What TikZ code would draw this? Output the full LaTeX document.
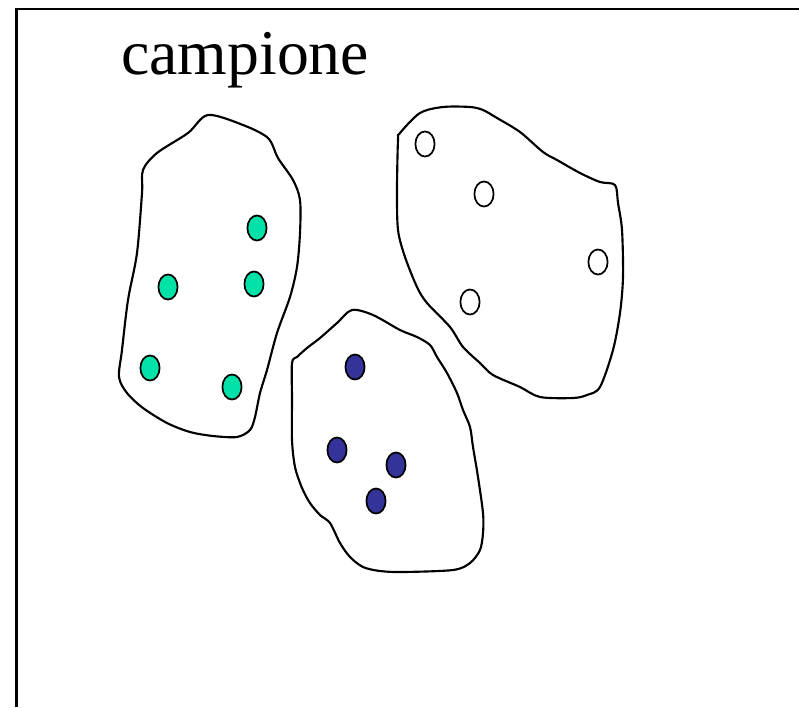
\documentclass[tikz,border=0pt]{standalone}
\usepackage{fontspec}
\setmainfont{Liberation Serif}
\usepackage{tikz}
\usetikzlibrary{positioning}
\definecolor{seagreen}{RGB}{0,226,168}
\definecolor{navyblue}{RGB}{51,51,153}

\begin{document}
\begin{tikzpicture}[
  x=0.75pt, y=-0.75pt,
  frame/.style={draw=black, line width=1.6pt},
  blob/.style={draw=black, line width=1.6pt, line join=round},
  dot/.style={draw=black, line width=1.3pt},
  title/.style={anchor=base west, inner sep=0pt, font=\fontsize{47.8}{55}\selectfont},
]
\useasboundingbox (0,0) rectangle (799,707);

%% Frame (left and top edges only)
\draw[frame] (16.5,707) -- (16.5,9) -- (799,9);

%% Title
\node[title] (campione) at (121,74) {campione};

%% Left group
\draw[blob] plot[smooth cycle, tension=0.5] coordinates {
  (208,115) (188,133) (157,153) (143,170) (142,193) (137,253) (128,300)
  (122,350) (119,377) (127,393) (143,408) (167,423) (190,432) (213,436)
  (237,437) (250,430) (255,417) (260,393) (267,370) (277,333) (290,297)
  (297,267) (300,233) (300,200) (293,180) (278,158) (268,138) (243,125)};
\foreach \px/\py in {257/228, 168/287, 254/284, 150/368, 232/387}
  \draw[dot, fill=seagreen] (\px,\py) ellipse [x radius=7.2pt, y radius=9.4pt];

%% Right group
\draw[blob] plot[smooth cycle, tension=0.5] coordinates {
  (400,133) (420,113) (443,107) (470,107) (483,110) (497,118) (520,132)
  (543,152) (557,160) (580,173) (600,182) (615,185) (618,203) (622,230)
  (623,277) (620,313) (613,350) (600,387) (587,395) (573,398) (540,397)
  (520,387) (493,375) (480,363) (463,347) (450,327) (427,303) (417,287)
  (405,257) (398,230) (397,190) (398,140)};
\foreach \px/\py in {425/144, 484/194, 598/262, 470/302}
  \draw[dot, fill=white] (\px,\py) ellipse [x radius=7.2pt, y radius=9.4pt];

%% Middle group
\draw[blob] plot[smooth cycle, tension=0.5] coordinates {
  (352,310) (373,315) (400,330) (417,337) (430,345) (437,357) (447,373)
  (457,393) (463,410) (470,427) (473,447) (478,477) (483,513) (483,533)
  (480,550) (470,563) (453,570) (403,572) (380,571) (363,567) (350,557)
  (340,543) (330,523) (320,515) (310,503) (302,488) (295,467) (292,440)
  (292,400) (292,363) (297,357) (307,348) (320,338) (337,323)};
\foreach \px/\py in {355/367, 337/450, 396/465, 376/501}
  \draw[dot, fill=navyblue] (\px,\py) ellipse [x radius=7.2pt, y radius=9.4pt];
\end{tikzpicture}
\end{document}
